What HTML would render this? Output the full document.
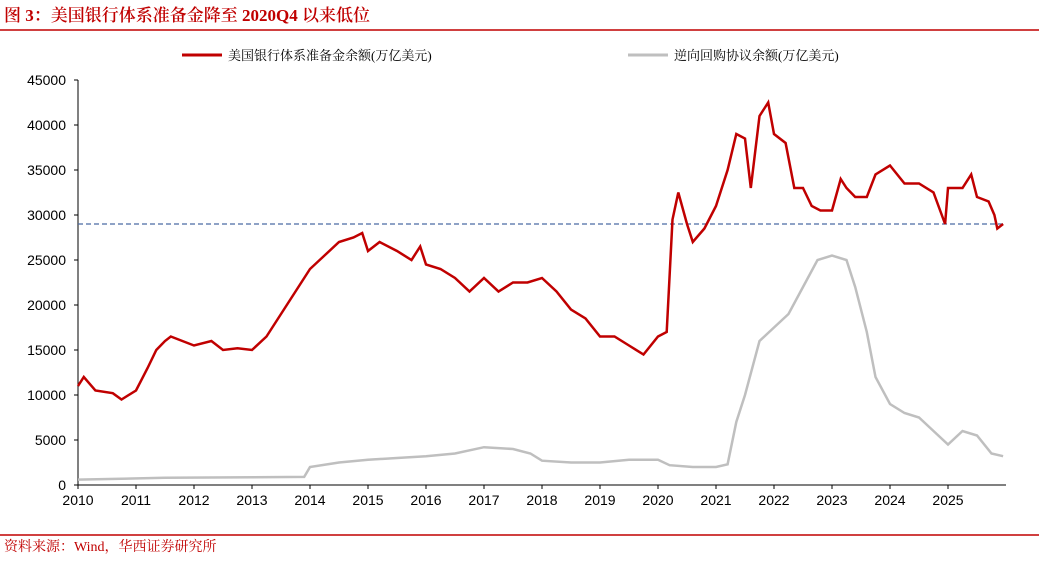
<!DOCTYPE html>
<html><head><meta charset="utf-8"><style>
body{margin:0;background:#fff;width:1039px;height:560px;overflow:hidden;font-family:"Liberation Sans","Noto Sans CJK SC",sans-serif}
svg text{font-family:"Liberation Sans","Noto Sans CJK SC",sans-serif}
svg text.serif{font-family:"Liberation Serif","Noto Serif CJK SC",serif}
</style></head><body>
<svg id="c" width="1039" height="560">
<text class="serif" x="4" y="21" font-size="17" font-weight="600" fill="#c00000">图 3：美国银行体系准备金降至 2020Q4 以来低位</text>
<line x1="0" y1="30" x2="1039" y2="30" stroke="#c00000" stroke-width="1.5"/>
<line x1="182" y1="55" x2="222" y2="55" stroke="#c00000" stroke-width="3"/>
<text class="serif" x="228" y="60" font-size="13" fill="#000">美国银行体系准备金余额(万亿美元)</text>
<line x1="628" y1="55" x2="668" y2="55" stroke="#bfbfbf" stroke-width="3"/>
<text class="serif" x="674" y="60" font-size="13" fill="#000">逆向回购协议余额(万亿美元)</text>
<g id="axes"></g>
<g id="marks"></g>
<line x1="0" y1="535" x2="1039" y2="535" stroke="#c00000" stroke-width="1.5"/>
<text class="serif" x="4" y="551" font-size="14" fill="#c00000">资料来源：Wind，华西证券研究所</text>
</svg>
<script>
const xTicks=[2010,2011,2012,2013,2014,2015,2016,2017,2018,2019,2020,2021,2022,2023,2024,2025];
const yTicks=[0,5000,10000,15000,20000,25000,30000,35000,40000,45000];
const refLevel=29000;
const resDates=[2010.0,2010.1,2010.3,2010.6,2010.75,2011.0,2011.2,2011.35,2011.5,2011.6,2011.8,2012.0,2012.3,2012.5,2012.75,2013.0,2013.25,2013.5,2013.75,2014.0,2014.25,2014.5,2014.75,2014.9,2015.0,2015.2,2015.5,2015.75,2015.9,2016.0,2016.25,2016.5,2016.75,2017.0,2017.25,2017.5,2017.75,2018.0,2018.25,2018.5,2018.75,2019.0,2019.25,2019.5,2019.75,2020.0,2020.15,2020.25,2020.35,2020.5,2020.6,2020.8,2021.0,2021.2,2021.35,2021.5,2021.6,2021.75,2021.9,2022.0,2022.2,2022.35,2022.5,2022.65,2022.8,2023.0,2023.15,2023.25,2023.4,2023.6,2023.75,2024.0,2024.25,2024.5,2024.75,2024.95,2025.0,2025.25,2025.4,2025.5,2025.7,2025.8,2025.85,2025.95];
const resVals=[11000,12000,10500,10200,9500,10500,13000,15000,16000,16500,16000,15500,16000,15000,15200,15000,16500,19000,21500,24000,25500,27000,27500,28000,26000,27000,26000,25000,26500,24500,24000,23000,21500,23000,21500,22500,22500,23000,21500,19500,18500,16500,16500,15500,14500,16500,17000,29500,32500,29000,27000,28500,31000,35000,39000,38500,33000,41000,42500,39000,38000,33000,33000,31000,30500,30500,34000,33000,32000,32000,34500,35500,33500,33500,32500,29000,33000,33000,34500,32000,31500,30000,28500,29000];
const rrpDates=[2010.0,2011.5,2013.9,2014.0,2014.5,2015.0,2015.5,2016.0,2016.5,2017.0,2017.5,2017.8,2018.0,2018.5,2019.0,2019.5,2020.0,2020.2,2020.6,2021.0,2021.2,2021.35,2021.5,2021.75,2022.0,2022.25,2022.5,2022.75,2023.0,2023.25,2023.4,2023.6,2023.75,2024.0,2024.25,2024.5,2024.75,2025.0,2025.25,2025.5,2025.75,2025.95];
const rrpVals=[600,800,900,2000,2500,2800,3000,3200,3500,4200,4000,3500,2700,2500,2500,2800,2800,2200,2000,2000,2300,7000,10000,16000,17500,19000,22000,25000,25500,25000,22000,17000,12000,9000,8000,7500,6000,4500,6000,5500,3500,3200];
const NS='http://www.w3.org/2000/svg';
const X=v=>78+(v-2010)*58, Y=v=>485-v*0.009;
function mk(t,a,p){const e=document.createElementNS(NS,t);for(const k in a)e.setAttribute(k,a[k]);p.appendChild(e);return e;}
const ax=document.getElementById('axes'),mg=document.getElementById('marks');
let e=mk('line',{x1:78,y1:80,x2:78,y2:485,stroke:'#000'},ax);


e=mk('line',{x1:78,y1:485,x2:1006,y2:485,stroke:'#000'},ax);


yTicks.forEach(v=>{mk('line',{x1:74,x2:78,y1:Y(v),y2:Y(v),stroke:'#000'},ax);
const t=mk('text',{x:66,y:Y(v)+5,'font-size':14,'text-anchor':'end'},ax);t.textContent=v;

});
xTicks.forEach(v=>{mk('line',{x1:X(v),x2:X(v),y1:485,y2:489,stroke:'#000'},ax);
const t=mk('text',{x:X(v),y:505,'font-size':14,'text-anchor':'middle'},ax);t.textContent=v;

});
e=mk('line',{x1:78,x2:1006,y1:Y(refLevel),y2:Y(refLevel),stroke:'#4a6aa5','stroke-dasharray':'5,3','stroke-width':1.2},mg);


e=mk('polyline',{points:rrpDates.map((d,i)=>X(d)+','+Y(rrpVals[i])).join(' '),fill:'none',stroke:'#bfbfbf','stroke-width':2.5},mg);


e=mk('polyline',{points:resDates.map((d,i)=>X(d)+','+Y(resVals[i])).join(' '),fill:'none',stroke:'#c00000','stroke-width':2.5},mg);


</script>
</body></html>
